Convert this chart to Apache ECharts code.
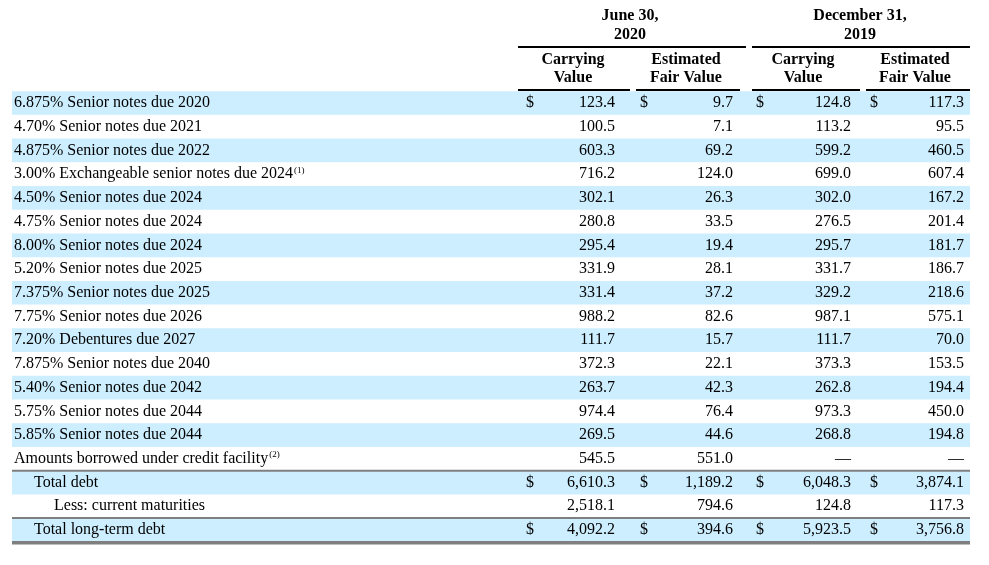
<!DOCTYPE html>
<html>
<head>
<meta charset="utf-8">
<script src="https://cdn.jsdelivr.net/npm/echarts@6/dist/echarts.min.js"></script>
<style>html,body{margin:0;padding:0;background:#fff}#main{width:989px;height:565px}</style>
</head>
<body>
<div id="main"></div>
<script>
var rows = [
    // label, sup, indent, carrying 2020, fair 2020, carrying 2019, fair 2019, dollar signs
    ["6.875% Senior notes due 2020", "", 0, "123.4", "9.7", "124.8", "117.3", true],
    ["4.70% Senior notes due 2021", "", 0, "100.5", "7.1", "113.2", "95.5"],
    ["4.875% Senior notes due 2022", "", 0, "603.3", "69.2", "599.2", "460.5"],
    ["3.00% Exchangeable senior notes due 2024", "(1)", 0, "716.2", "124.0", "699.0", "607.4"],
    ["4.50% Senior notes due 2024", "", 0, "302.1", "26.3", "302.0", "167.2"],
    ["4.75% Senior notes due 2024", "", 0, "280.8", "33.5", "276.5", "201.4"],
    ["8.00% Senior notes due 2024", "", 0, "295.4", "19.4", "295.7", "181.7"],
    ["5.20% Senior notes due 2025", "", 0, "331.9", "28.1", "331.7", "186.7"],
    ["7.375% Senior notes due 2025", "", 0, "331.4", "37.2", "329.2", "218.6"],
    ["7.75% Senior notes due 2026", "", 0, "988.2", "82.6", "987.1", "575.1"],
    ["7.20% Debentures due 2027", "", 0, "111.7", "15.7", "111.7", "70.0"],
    ["7.875% Senior notes due 2040", "", 0, "372.3", "22.1", "373.3", "153.5"],
    ["5.40% Senior notes due 2042", "", 0, "263.7", "42.3", "262.8", "194.4"],
    ["5.75% Senior notes due 2044", "", 0, "974.4", "76.4", "973.3", "450.0"],
    ["5.85% Senior notes due 2044", "", 0, "269.5", "44.6", "268.8", "194.8"],
    ["Amounts borrowed under credit facility", "(2)", 0, "545.5", "551.0", "—", "—"],
    ["Total debt", "", 1, "6,610.3", "1,189.2", "6,048.3", "3,874.1", true],
    ["Less: current maturities", "", 2, "2,518.1", "794.6", "124.8", "117.3"],
    ["Total long-term debt", "", 1, "4,092.2", "394.6", "5,923.5", "3,756.8", true]
];
var font = '"Liberation Serif", "Times New Roman", serif';
var fs = '16px ' + font;
var top0 = 103, rowH = 23.72, left = 12, right = 970;
var dollarX = [526, 640, 756, 870];
var valRight = [615, 733, 851, 964];
var g = [];
function txt(x, y, s, opt) {
    g.push({ type: 'text', x: x, y: y, style: Object.assign({ text: s, font: fs, fill: '#000', textVerticalAlign: 'middle' }, opt || {}) });
}
function line(x1, y1, x2, y2, w, c) {
    g.push({ type: 'line', shape: { x1: x1, y1: y1, x2: x2, y2: y2 }, style: { stroke: c || '#000', lineWidth: w } });
}
rows.forEach(function (r, i) {
    var y = top0 + i * rowH;
    if (i % 2 === 0) {
        g.push({ type: 'rect', shape: { x: left, y: y - rowH / 2, width: right - left, height: rowH }, style: { fill: '#cceeff' }, z: -1 });
    }
    var lx = 14 + r[2] * 20;
    txt(lx, y, r[0]);
    if (r[1]) {
        var w = echarts.format.getTextRect ? echarts.format.getTextRect(r[0], fs).width : r[0].length * 7.5;
        txt(lx + w + 1, y - 4, r[1], { font: '9px ' + font });
    }
    for (var c = 0; c < 4; c++) {
        if (r[7]) txt(dollarX[c], y, '$');
        txt(valRight[c], y, r[3 + c], { textAlign: 'right' });
    }
});
// header
var hf = 'bold 16px ' + font;
txt(630, 16, 'June 30,', { font: hf, textAlign: 'center' });
txt(630, 35, '2020', { font: hf, textAlign: 'center' });
txt(860, 16, 'December 31,', { font: hf, textAlign: 'center' });
txt(860, 35, '2019', { font: hf, textAlign: 'center' });
line(518, 47, 746, 47, 2);
line(752, 47, 970, 47, 2);
var sub = [[573, 'Carrying', 'Value', 518, 630], [686, 'Estimated', 'Fair Value', 636, 740], [803, 'Carrying', 'Value', 752, 860], [915, 'Estimated', 'Fair Value', 866, 970]];
sub.forEach(function (s) {
    txt(s[0], 60, s[1], { font: hf, textAlign: 'center' });
    txt(s[0], 78, s[2], { font: hf, textAlign: 'center' });
    line(s[3], 90, s[4], 90, 2);
});
// rules
var yTot = top0 + 16 * rowH - rowH / 2;
line(left, yTot, right, yTot, 2, '#7f7f7f');
var yLtd = top0 + 18 * rowH - rowH / 2;
line(left, yLtd, right, yLtd, 2, '#7f7f7f');
var yEnd = top0 + 18 * rowH + rowH / 2 + 1;
line(left, yEnd, right, yEnd, 3.5, '#7f7f7f');

var chart = echarts.init(document.getElementById('main'));
chart.setOption({ animation: false, graphic: { elements: g } });
</script>
</body>
</html>
